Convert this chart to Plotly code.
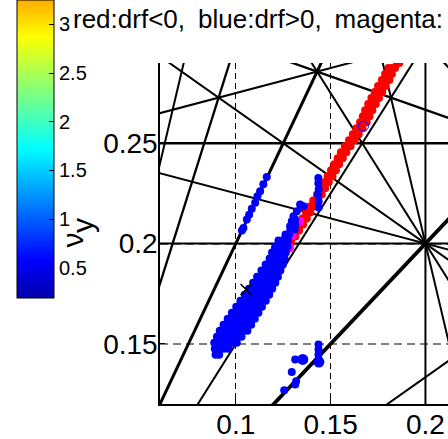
import numpy as np
import plotly.graph_objects as go

# ---------------- data ----------------
# resonance lines  m*nu_x + n*nu_y = p
res_m = [1, 2, 0, 1, 3, 2, 5, 0, 4, 1, 3, 2, 4, 3, 2, -1]
res_n = [-1, -1, 4, 3, -1, 2, 0, 5, 1, 4, 2, 3, -1, -2, -3, 4]
res_p = [0, 0, 1, 1, 0, 1, 1, 1, 1, 1, 1, 1, 0, 0, 0, 1]

# red points (drf<0): rows of (nu_y, [nu_x ...])
red_rows = [
    (0.2900, [0.1850, 0.1862]),
    (0.2875, [0.1805, 0.1823, 0.1840]),
    (0.2845, [0.1787, 0.1805, 0.1823]),
    (0.2815, [0.1770, 0.1790, 0.1810]),
    (0.2785, [0.1750, 0.1770, 0.1790]),
    (0.2755, [0.1733, 0.1752, 0.1772]),
    (0.2725, [0.1715, 0.1735, 0.1755]),
    (0.2695, [0.1698, 0.1718, 0.1738]),
    (0.2665, [0.1682, 0.1700, 0.1720]),
    (0.2635, [0.1670, 0.1688, 0.1705]),
    (0.2605, [0.1655, 0.1672, 0.1690]),
    (0.2575, [0.1636, 0.1652, 0.1668]),
    (0.2545, [0.1617, 0.1632, 0.1648]),
    (0.2515, [0.1597, 0.1612, 0.1627]),
    (0.2485, [0.1575, 0.1590, 0.1605]),
    (0.2455, [0.1554, 0.1568, 0.1583]),
    (0.2425, [0.1537, 0.1550, 0.1564]),
    (0.2395, [0.1519, 0.1532, 0.1545]),
    (0.2365, [0.1502, 0.1515, 0.1528]),
    (0.2335, [0.1484, 0.1497, 0.1510]),
    (0.2305, [0.1465, 0.1477, 0.1490]),
    (0.2275, [0.1446, 0.1458, 0.1471]),
    (0.2245, [0.1428, 0.1440, 0.1453]),
    (0.2215, [0.1408, 0.1420, 0.1433]),
    (0.2185, [0.1389, 0.1400, 0.1413]),
    (0.2155, [0.1370, 0.1381, 0.1393]),
    (0.2125, [0.1351, 0.1362, 0.1374]),
    (0.2095, [0.1332, 0.1343, 0.1355]),
    (0.2065, [0.1312, 0.1322, 0.1334]),
    (0.2035, [0.1292, 0.1302, 0.1314]),
    (0.2005, [0.1280, 0.1292]),
    (0.1975, [0.1268, 0.1280]),
]

# magenta points
mag_x = [0.1339, 0.1300, 0.1286]
mag_y = [0.2111, 0.2040, 0.1979]

# blue points (drf>0): main cloud rows
blue_rows = [
    (0.1445, [0.0893, 0.0912]),
    (0.1475, [0.0889, 0.0912, 0.0937, 0.0960]),
    (0.1505, [0.0886, 0.0910, 0.0935, 0.0960, 0.0985, 0.1005]),
    (0.1535, [0.0900, 0.0925, 0.0950, 0.0975, 0.1000, 0.1030]),
    (0.1565, [0.0915, 0.0940, 0.0965, 0.0990, 0.1015, 0.1040, 0.1061]),
    (0.1595, [0.0935, 0.0960, 0.0985, 0.1010, 0.1035, 0.1060, 0.1081]),
    (0.1625, [0.0957, 0.0982, 0.1007, 0.1032, 0.1057, 0.1080, 0.1100]),
    (0.1655, [0.0979, 0.1004, 0.1029, 0.1054, 0.1079, 0.1100, 0.1119]),
    (0.1685, [0.1002, 0.1027, 0.1052, 0.1077, 0.1100, 0.1120, 0.1138]),
    (0.1715, [0.1024, 0.1049, 0.1074, 0.1099, 0.1122, 0.1142, 0.1158]),
    (0.1745, [0.1047, 0.1072, 0.1097, 0.1120, 0.1142, 0.1160, 0.1176]),
    (0.1775, [0.1069, 0.1094, 0.1119, 0.1142, 0.1165, 0.1192]),
    (0.1805, [0.1091, 0.1116, 0.1141, 0.1165, 0.1190, 0.1208]),
    (0.1835, [0.1112, 0.1137, 0.1162, 0.1187, 0.1210, 0.1222]),
    (0.1865, [0.1135, 0.1160, 0.1185, 0.1210, 0.1235]),
    (0.1895, [0.1157, 0.1182, 0.1207, 0.1230, 0.1248]),
    (0.1925, [0.1178, 0.1203, 0.1228, 0.1257]),
    (0.1955, [0.1191, 0.1216, 0.1241, 0.1264]),
    (0.1985, [0.1208, 0.1233, 0.1258, 0.1272]),
    (0.2015, [0.1225, 0.1250, 0.1275]),
    (0.2045, [0.1262, 0.1280]),
    (0.2070, [0.1288, 0.1310]),
]
# blue streaks and small clusters
blue_x = [0.1163, 0.1145, 0.1128, 0.1114, 0.1102, 0.1084, 0.1070, 0.1058, 0.1040, 0.1032,
          0.1435, 0.1435, 0.1437, 0.1433, 0.1437, 0.1437,
          0.1339, 0.1357, 0.1322, 0.1304, 0.1313, 0.1295, 0.1286, 0.1313, 0.1277, 0.1260,
          0.1243, 0.1225, 0.1207,
          0.1436, 0.1436, 0.1436, 0.1436, 0.1313, 0.1295, 0.1318, 0.1313, 0.1255]
blue_y = [0.2332, 0.2295, 0.2261, 0.2236, 0.2203, 0.2173, 0.2144, 0.2120, 0.2078, 0.2065,
          0.2327, 0.2300, 0.2270, 0.2244, 0.2211, 0.2180,
          0.2194, 0.2186, 0.2161, 0.2136, 0.2120, 0.2111, 0.2086, 0.2095, 0.2045, 0.2028,
          0.2011, 0.1995, 0.1978,
          0.1497, 0.1472, 0.1447, 0.1422, 0.1422, 0.1359, 0.1314, 0.1297, 0.1269]
big_blue_x = [0.1353, 0.1438]
big_blue_y = [0.1422, 0.1409]

ring_x = [0.1673]
ring_y = [0.2585]
wp_x = [0.1054]
wp_y = [0.1771]

cb_ticks = [0.5, 1, 1.5, 2, 2.5, 3]
cb_ticktext = ["0.5", "1", "1.5", "2", "2.5", "3"]
x_ticks = [0.1, 0.15, 0.2]
x_ticktext = ["0.1", "0.15", "0.2"]
y_ticks = [0.15, 0.2, 0.25]
y_ticktext = ["0.15", "0.2", "0.25"]

# ---------------- figure ----------------
FONT = "Liberation Sans, Arial, Helvetica, sans-serif"
W, H = 448, 439
ML, MR, MT, MB = 160, 0, 63, 35
PW, PH = W - ML - MR, H - MT - MB


def px2paper_x(px):
    return (px - ML) / PW


def px2paper_y(py):
    return (H - MB - py) / PH


fig = go.Figure()

order_width = {2: 3.8, 3: 3.0, 4: 2.3, 5: 2.0}
for m, n, p in zip(res_m, res_n, res_p):
    if n != 0:
        xs = np.array([-0.1, 0.6])
        ys = (p - m * xs) / n
    else:
        xs = np.array([p / m, p / m])
        ys = np.array([-0.1, 0.6])
    fig.add_trace(go.Scatter(x=xs, y=ys, mode="lines",
                             line=dict(color="black", width=order_width[abs(m) + abs(n)]),
                             hoverinfo="skip", showlegend=False))

rx = [x for y, xs in red_rows for x in xs]
ry = [y for y, xs in red_rows for x in xs]
fig.add_trace(go.Scatter(x=rx, y=ry, mode="markers",
                         marker=dict(color="#ff0000", size=8, line=dict(width=0)),
                         showlegend=False))
fig.add_trace(go.Scatter(x=mag_x, y=mag_y, mode="markers",
                         marker=dict(color="#ff00ff", size=8, line=dict(width=0)),
                         showlegend=False))
bx = [x for y, xs in blue_rows for x in xs] + blue_x
by = [y for y, xs in blue_rows for x in xs] + blue_y
fig.add_trace(go.Scatter(x=bx, y=by, mode="markers",
                         marker=dict(color="#0000ff", size=8, line=dict(width=0)),
                         showlegend=False))
fig.add_trace(go.Scatter(x=big_blue_x, y=big_blue_y, mode="markers",
                         marker=dict(color="#0000ff", size=11, line=dict(width=0)),
                         showlegend=False))
fig.add_trace(go.Scatter(x=ring_x, y=ring_y, mode="markers",
                         marker=dict(symbol="circle-open", color="#0000ff", size=10,
                                     line=dict(width=1, color="#0000ff")),
                         showlegend=False))
fig.add_trace(go.Scatter(x=wp_x, y=wp_y, mode="markers",
                         marker=dict(symbol="x-thin", size=11,
                                     line=dict(width=1.6, color="black")),
                         showlegend=False))


# jet colorbar (MATLAB jet spanning 0..4.6, visible part 0.192..3.249)
def jet(f):
    r = np.clip(1.5 - abs(4 * f - 3), 0, 1)
    g = np.clip(1.5 - abs(4 * f - 2), 0, 1)
    b = np.clip(1.5 - abs(4 * f - 1), 0, 1)
    return "rgb(%d,%d,%d)" % (round(r * 255), round(g * 255), round(b * 255))


cmin, cmax, jlo, jhi = 0.192, 3.249, 0.0, 4.6
cs = []
for s in np.linspace(0, 1, 41):
    v = cmin + s * (cmax - cmin)
    cs.append([float(s), jet((v - jlo) / (jhi - jlo))])

CB_L, CB_R, CB_T, CB_B = 17, 54, 0, 298
fig.add_trace(go.Scatter(
    x=[None], y=[None], mode="markers", showlegend=False, hoverinfo="skip",
    marker=dict(color=[cmin], cmin=cmin, cmax=cmax, colorscale=cs, showscale=True,
                colorbar=dict(x=px2paper_x(CB_L), xanchor="left",
                              y=px2paper_y(CB_T), yanchor="top",
                              thickness=CB_R - CB_L, thicknessmode="pixels",
                              len=CB_B - CB_T, lenmode="pixels", xpad=0, ypad=0,
                              outlinecolor="black", outlinewidth=1,
                              tickvals=cb_ticks, ticktext=cb_ticktext,
                              ticks="inside", ticklen=5, tickcolor="black",
                              tickfont=dict(family=FONT, size=20, color="black")))))

# left-side inner tick marks of the colorbar (MATLAB draws them on both edges)
shapes = []
for v in cb_ticks:
    py = CB_T + (cmax - v) / (cmax - cmin) * (CB_B - CB_T)
    shapes.append(dict(type="line", xref="paper", yref="paper",
                       x0=px2paper_x(CB_L), x1=px2paper_x(CB_L + 5),
                       y0=px2paper_y(py), y1=px2paper_y(py),
                       line=dict(color="black", width=1)))

fig.update_layout(
    width=W, height=H,
    margin=dict(l=ML, r=MR, t=MT, b=MB, autoexpand=False),
    paper_bgcolor="white", plot_bgcolor="white",
    font=dict(family=FONT, color="black"),
    showlegend=False,
    shapes=shapes,
    xaxis=dict(range=[0.06, 0.2119], tickvals=x_ticks, ticktext=x_ticktext,
               showgrid=True, gridcolor="black", gridwidth=1, griddash="6px,4px",
               showline=True, linecolor="black", linewidth=1.5, zeroline=False,
               ticks="inside", ticklen=5, tickcolor="black", ticklabelstandoff=-5,
               automargin=False,
               tickfont=dict(family=FONT, size=28, color="black")),
    yaxis=dict(range=[0.12, 0.29], tickvals=y_ticks, ticktext=y_ticktext,
               showgrid=True, gridcolor="#808080", gridwidth=1.5, griddash="8px,5px",
               showline=True, linecolor="black", linewidth=1.5, zeroline=False,
               ticks="inside", ticklen=5, tickcolor="black", ticklabelstandoff=-5,
               automargin=False,
               tickfont=dict(family=FONT, size=28, color="black")),
    annotations=[
        dict(text="red:drf&lt;0,\u2002blue:drf&gt;0,\u2002magenta:",
             xref="paper", yref="paper",
             x=px2paper_x(71), y=px2paper_y(36), xanchor="left", yanchor="bottom",
             showarrow=False, font=dict(family=FONT, size=26, color="black")),
        # y-axis label nu_y (MATLAB draws the subscript at full size, shifted)
        dict(text="ν", xref="paper", yref="paper",
             x=px2paper_x(72), y=px2paper_y(240.5), xanchor="center", yanchor="middle",
             textangle=-90, showarrow=False,
             font=dict(family=FONT, size=30, color="black")),
        dict(text="y", xref="paper", yref="paper",
             x=px2paper_x(82), y=px2paper_y(226), xanchor="center", yanchor="middle",
             textangle=-90, showarrow=False,
             font=dict(family=FONT, size=30, color="black")),
    ],
)

fig.write_html("out.html")
